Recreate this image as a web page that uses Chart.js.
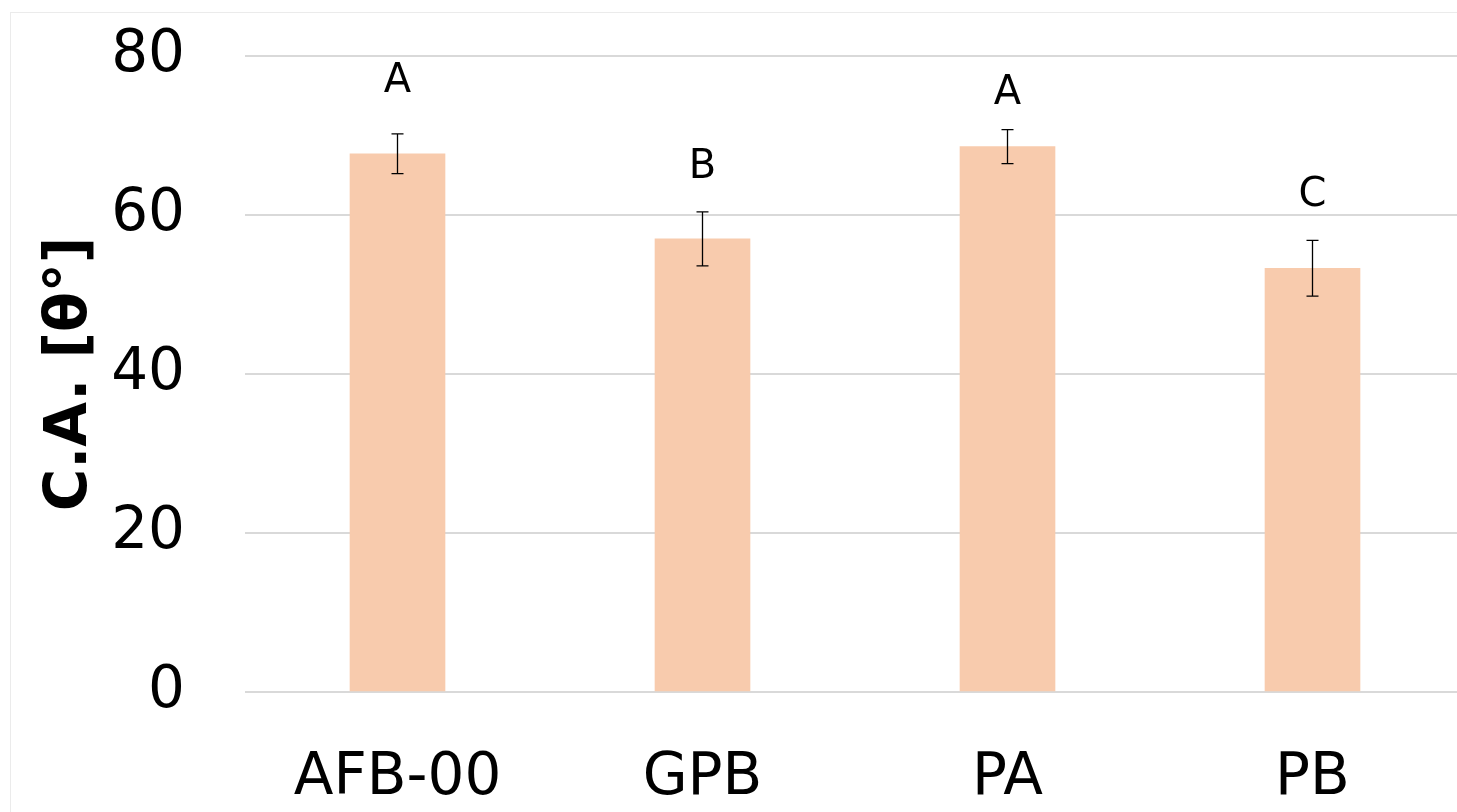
<!DOCTYPE html>
<html>
<head>
<meta charset="utf-8">
<script src="https://cdn.jsdelivr.net/npm/chart.js@4.4.1/dist/chart.umd.min.js"></script>
<style>
  html, body { margin:0; padding:0; background:#fff; overflow:hidden; }
  #wrap { position:relative; width:1457px; height:812px; overflow:hidden; }
  #frame { position:absolute; left:10px; top:12px; width:1500px; height:900px; border:1px solid #ebebeb; box-sizing:border-box; }
  #holder { position:absolute; left:0; top:0; width:1475px; height:812px; }
</style>
</head>
<body>
<div id="wrap">
  <div id="frame"></div>
  <div id="holder"><canvas id="c" width="1475" height="812"></canvas></div>
</div>
<script>
const categories = ['AFB-00', 'GPB', 'PA', 'PB'];
const contactAngle = [67.7, 57.0, 68.6, 53.3];
const errorSize    = [2.5, 3.4, 2.15, 3.5];
const groupLetters = ['A', 'B', 'A', 'C'];
const letterLevel  = [76.8, 65.9, 75.3, 62.4];
const yTicks = [0, 20, 40, 60, 80];

const FONT = "'DejaVu Sans', Verdana, sans-serif";

const errorBars = {
  id: 'errorBars',
  afterDatasetsDraw(chart) {
    const { ctx, scales: { x, y } } = chart;
    ctx.save();
    ctx.strokeStyle = '#000';
    ctx.lineWidth = 1.3;
    contactAngle.forEach((v, i) => {
      const cx = x.getPixelForValue(i);
      const top = y.getPixelForValue(v + errorSize[i]);
      const bot = y.getPixelForValue(v - errorSize[i]);
      ctx.beginPath();
      ctx.moveTo(cx, top); ctx.lineTo(cx, bot);
      ctx.moveTo(cx - 6, top); ctx.lineTo(cx + 6, top);
      ctx.moveTo(cx - 6, bot); ctx.lineTo(cx + 6, bot);
      ctx.stroke();
    });
    ctx.fillStyle = '#000';
    ctx.font = '40px ' + FONT;
    ctx.textAlign = 'center';
    ctx.textBaseline = 'middle';
    groupLetters.forEach((t, i) => {
      ctx.fillText(t, x.getPixelForValue(i), y.getPixelForValue(letterLevel[i]));
    });
    ctx.restore();
  }
};

new Chart(document.getElementById('c'), {
  type: 'bar',
  data: {
    labels: categories,
    datasets: [{
      data: contactAngle,
      backgroundColor: '#F8CBAD',
      borderWidth: 0,
      barThickness: 95
    }]
  },
  options: {
    responsive: false,
    animation: false,
    layout: { padding: { left: 36, right: 10, top: 56, bottom: 0 } },
    plugins: { legend: { display: false }, tooltip: { enabled: false } },
    scales: {
      x: {
        grid: { display: false },
        border: { display: false },
        afterFit: s => { s.height = 120; },
        ticks: { color: '#000', font: { family: FONT, size: 58 }, padding: 44 }
      },
      y: {
        min: 0, max: 80,
        afterBuildTicks: s => { s.ticks = yTicks.map(v => ({ value: v })); },
        afterFit: s => { s.width = 209; s.paddingTop = 0; s.paddingBottom = 0; },
        grid: { color: '#d9d9d9', lineWidth: 2, drawTicks: false },
        border: { display: false },
        ticks: { color: '#000', font: { family: FONT, size: 58 }, padding: 60 },
        title: {
          display: true, text: 'C.A. [θ°]', color: '#000',
          font: { family: FONT, size: 58, weight: 'bold' }, padding: { top: 0, bottom: 0 }
        }
      }
    }
  },
  plugins: [errorBars]
});
</script>
</body>
</html>
